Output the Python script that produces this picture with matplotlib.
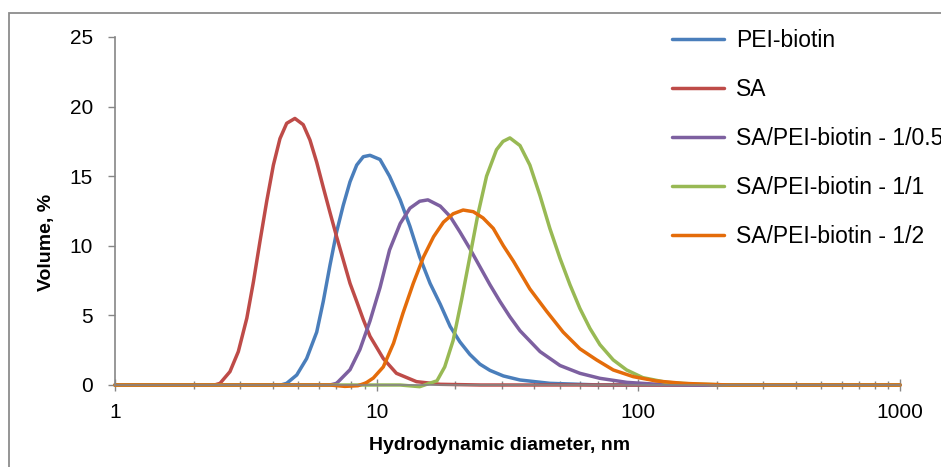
import matplotlib
matplotlib.use("Agg")
import matplotlib.pyplot as plt
from matplotlib.ticker import FixedLocator, FixedFormatter, NullFormatter, LogLocator
from matplotlib.patches import Rectangle

plt.rcParams['font.family'] = ['Liberation Sans', 'DejaVu Sans']

# Size distributions (diameter in nm, volume in %)
sa_d = [1, 2.40, 2.52, 2.75, 2.96, 3.19, 3.38, 3.58, 3.80, 4.03, 4.27, 4.53, 4.87,
        5.24, 5.56, 5.90, 6.25, 6.63, 7.03, 7.45, 7.91, 8.39, 8.89, 9.43, 10.0,
        10.6, 11.9, 14.2, 17.5, 25.0, 1000]
sa_v = [0, 0, 0.12, 0.96, 2.4, 4.8, 7.4, 10.3, 13.2, 15.8, 17.7, 18.8, 19.15,
        18.7, 17.6, 16.0, 14.2, 12.4, 10.65, 9.0, 7.3, 6.0, 4.7, 3.5, 2.7,
        1.9, 0.84, 0.24, 0.05, 0, 0]

pei_d = [1, 4.3, 4.53, 4.95, 5.40, 5.90, 6.25, 6.63, 7.03, 7.45, 7.91, 8.39, 8.89,
         9.43, 10.3, 11.2, 12.3, 13.4, 14.6, 16.0, 17.5, 19.1, 20.8, 22.7, 24.8,
         27.1, 30.5, 35.3, 45.9, 71.3, 1000]
pei_v = [0, 0, 0.12, 0.72, 1.9, 3.8, 6.0, 8.6, 11.0, 12.9, 14.6, 15.8, 16.4,
         16.5, 16.2, 15.0, 13.3, 11.4, 9.2, 7.3, 5.8, 4.2, 3.1, 2.2, 1.5,
         1.05, 0.65, 0.36, 0.12, 0, 0]

r05_d = [1, 6.63, 7.03, 7.91, 8.63, 9.43, 10.3, 11.2, 12.3, 13.4, 14.6, 15.7, 17.5,
         19.1, 20.8, 22.7, 24.8, 27.1, 29.6, 32.3, 35.3, 42.1, 50.2, 59.8, 71.3,
         90.4, 114, 157, 1000]
r05_v = [0, 0, 0.12, 1.1, 2.55, 4.6, 7.0, 9.7, 11.6, 12.7, 13.2, 13.3, 12.85,
         12.1, 11.0, 9.8, 8.5, 7.2, 6.0, 4.9, 3.9, 2.4, 1.4, 0.84, 0.48,
         0.19, 0.07, 0, 0]

r1_d = [1, 12.3, 14.6, 17.0, 18.2, 19.6, 21.1, 22.7, 24.4, 26.3, 28.7, 30.4, 32.3,
        35.3, 38.5, 42.1, 45.9, 50.2, 54.8, 59.8, 65.3, 71.3, 80.2, 90.2, 104,
        128, 162, 224, 1000]
r1_v = [0, 0, -0.12, 0.3, 1.3, 3.2, 6.1, 9.2, 12.3, 15.0, 16.9, 17.5, 17.75,
        17.2, 15.8, 13.6, 11.25, 9.1, 7.2, 5.5, 4.07, 2.9, 1.8, 1.08, 0.53,
        0.19, 0.07, 0, 0]

r2_d = [1, 6.63, 7.56, 8.48, 9.10, 9.71, 10.6, 11.6, 12.6, 13.8, 15.1, 16.5, 18.0,
        19.6, 21.4, 23.4, 25.5, 27.9, 30.5, 33.3, 38.5, 44.6, 51.6, 59.8, 69.3,
        80.2, 95.6, 117, 148, 172, 224, 1000]
r2_v = [0, 0, -0.1, -0.05, 0.15, 0.5, 1.3, 3.0, 5.15, 7.3, 9.2, 10.65, 11.7,
        12.3, 12.57, 12.45, 12.0, 11.25, 10.0, 8.9, 6.9, 5.3, 3.8, 2.6, 1.8,
        1.08, 0.6, 0.29, 0.12, 0.07, 0, 0]

labels = ['PEI-biotin', 'SA', 'SA/PEI-biotin - 1/0.5', 'SA/PEI-biotin - 1/1', 'SA/PEI-biotin - 1/2']
colors = ['#4A7EBB', '#BE4B48', '#7D60A0', '#98B954', '#E46C0A']
x_ticks = [1, 10, 100, 1000]
x_tick_labels = ['1', '10', '100', '1000']
y_ticks = [0, 5, 10, 15, 20, 25]

fig = plt.figure(figsize=(9.41, 4.67), dpi=100)
ax = fig.add_axes([115 / 941, 1 - 385 / 467, 785 / 941, 348 / 467])

series = [(pei_d, pei_v), (sa_d, sa_v), (r05_d, r05_v), (r1_d, r1_v), (r2_d, r2_v)]
for (d, v), lab, c in zip(series, labels, colors):
    ax.plot(d, v, color=c, lw=2.5, label=lab, solid_joinstyle='round',
            solid_capstyle='round', clip_on=False)

ax.set_xscale('log')
ax.set_xlim(1, 1000)
ax.set_ylim(0, 25)

gray = '#868686'
ax.xaxis.set_major_locator(FixedLocator(x_ticks))
ax.xaxis.set_major_formatter(FixedFormatter(x_tick_labels))
ax.xaxis.set_minor_locator(LogLocator(base=10, subs=range(2, 10)))
ax.xaxis.set_minor_formatter(NullFormatter())
ax.set_yticks(y_ticks)

for s in ['top', 'right']:
    ax.spines[s].set_visible(False)
for s in ['left', 'bottom']:
    ax.spines[s].set_color(gray)
    ax.spines[s].set_linewidth(1.2)

ax.tick_params(axis='x', which='major', direction='inout', length=8.5, width=1, color=gray,
               labelsize=15, pad=9)
ax.tick_params(axis='x', which='minor', direction='inout', length=6, width=1, color=gray)
ax.tick_params(axis='y', which='major', direction='out', length=5, width=1, color=gray,
               labelsize=15, pad=11)

fig.text(500 / 941, 1 - 445 / 467, 'Hydrodynamic diameter, nm', ha='center', va='center',
         fontsize=14, fontweight='bold')
fig.text(46 / 941, 1 - 242 / 467, 'Volume, %', ha='center', va='center', rotation=90,
         fontsize=14, fontweight='bold')

# legend runs past the right edge, as in the original
ax.legend(loc='upper left', bbox_to_anchor=(672 / 941, 1 - 29 / 467),
          bbox_transform=fig.transFigure, frameon=False, fontsize=16.5,
          handlelength=2.28, handletextpad=0.5, labelspacing=1.13,
          borderpad=0, borderaxespad=0)

# chart area border (cut off at right and bottom)
fig.patches.append(Rectangle((9 / 941, -0.1), 1.2, 1.1 - 13 / 467, transform=fig.transFigure,
                             fill=False, edgecolor='#8C8C8C', lw=1.3))

fig.savefig('out.png', dpi=100)
